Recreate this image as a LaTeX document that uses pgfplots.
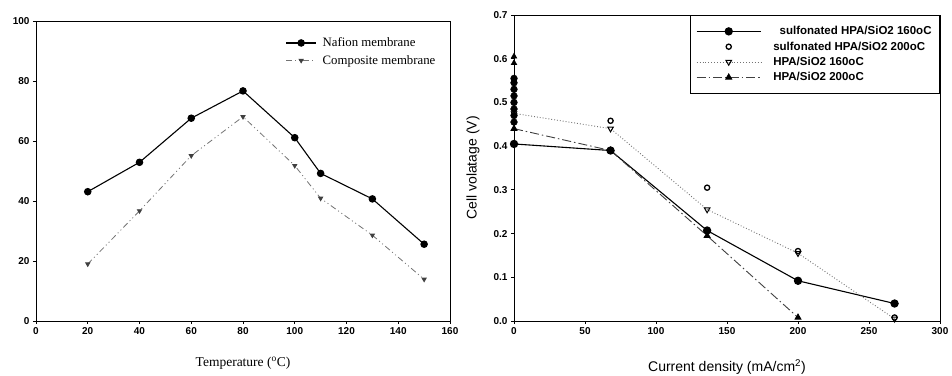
\documentclass[border=0pt]{standalone}
\usepackage{fontspec}
\setmainfont{Liberation Sans}
\newfontfamily\tnr{Liberation Serif}
\usepackage{pgfplots}
\pgfplotsset{compat=1.18}
\definecolor{dgray}{gray}{0.25}
\definecolor{mgray}{gray}{0.45}
\pgfplotsset{
  common/.style={
    scale only axis,
    anchor=north west,
    tick align=outside,
    xtick pos=bottom, ytick pos=left,
    axis line style={line width=0.9pt},
    major tick length=3pt,
    tick style={black, line width=0.8pt},
    ticklabel style={font=\bfseries\fontsize{10}{12}\selectfont},
    /pgf/number format/assume math mode=true,
    clip=false,
  },
}
\begin{document}
\begin{tikzpicture}[x=1pt,y=1pt]
\useasboundingbox (0,0) rectangle (952,-375);
% ---------------- left chart ----------------
\begin{axis}[common,
  at={(36pt,-21pt)}, width=414pt, height=300pt,
  xmin=0, xmax=160, ymin=0, ymax=100,
  xtick={0,20,...,160}, ytick={0,20,...,100},
  xlabel={\tnr\fontsize{13.5}{15}\selectfont Temperature (\textsuperscript{o}C)},
  xlabel style={at={(axis description cs:0.5,-0.14)}, anchor=center},
  legend style={draw=none, fill=none, at={(axis description cs:0.600,0.955)}, anchor=north west,
    font=\tnr\fontsize{12.8}{14}\selectfont, row sep=3pt, inner sep=1pt,
    /tikz/every odd column/.append style={column sep=4pt}},
  legend cell align=left,
  legend image code/.code={\draw[mark repeat=2,mark phase=2,#1] plot coordinates {(0pt,0pt)(15pt,0pt)(30pt,0pt)};},
]
\addplot[black, line width=1.1pt, mark=*, mark size=3.2pt, mark options={solid}] coordinates {
 (20,43.1) (40,52.9) (60,67.6) (80,76.7) (100,61.1) (110,49.2) (130,40.7) (150,25.6)};
\addlegendentry{Nafion membrane}
\addplot[mgray, line width=0.8pt, dash pattern=on 6pt off 3pt on 1pt off 3pt on 1pt off 3pt,
  mark=triangle*, mark size=2.4pt, mark options={solid, rotate=180, fill=dgray, draw=dgray}] coordinates {
 (20,19.0) (40,36.7) (60,55.1) (80,68.1) (100,51.8) (110,40.9) (130,28.6) (150,13.9)};
\addlegendentry{Composite membrane}
\end{axis}
% ---------------- right chart ----------------
\begin{axis}[common,
  at={(514pt,-15pt)}, width=426pt, height=306pt,
  xmin=0, xmax=300, ymin=0, ymax=0.7,
  xtick={0,50,...,300}, ytick={0,0.1,...,0.7},
  yticklabel style={/pgf/number format/.cd, fixed, fixed zerofill, precision=1},
  xlabel={\fontsize{14}{16}\selectfont Current density (mA/cm\textsuperscript{2})},
  xlabel style={at={(axis description cs:0.5,-0.150)}, anchor=center},
  ylabel={\fontsize{14}{16}\selectfont Cell volatage (V)},
  ylabel style={at={(axis description cs:-0.096,0.5)}, anchor=center},
  legend style={draw=black, line width=0.9pt, fill=white, at={(axis description cs:1,1)}, anchor=north east,
    font=\bfseries\fontsize{11.5}{13}\selectfont, row sep=1.5pt, inner xsep=6pt, inner ysep=9pt,
    /tikz/every odd column/.append style={column sep=10pt}},
  legend cell align=left,
  legend image code/.code={\draw[mark repeat=2,mark phase=2,#1] plot coordinates {(0pt,0pt)(32pt,0pt)(64pt,0pt)};},
]
\addplot[black, line width=1.1pt, mark=*, mark size=3.6pt, mark options={solid}] coordinates {
 (0,0.405) (68,0.390) (136,0.207) (200,0.092) (268,0.040)};
\addlegendentry{\ \ sulfonated HPA/SiO2 160oC}
\addplot[only marks, black, mark=o, mark size=2.6pt, mark options={line width=1.3pt}] coordinates {
 (68,0.458) (136,0.305) (200,0.160) (268,0.008)};
\addlegendentry{sulfonated HPA/SiO2 200oC}
\addplot[mgray, line width=0.9pt, dotted, mark=triangle, mark size=3.2pt,
  mark options={solid, rotate=180, black, line width=1pt}] coordinates {
 (0,0.475) (68,0.440) (136,0.255) (200,0.155) (268,0.005)};
\addlegendentry{HPA/SiO2 160oC}
\addplot[dgray, line width=0.9pt, dash pattern=on 9pt off 3pt on 1.5pt off 3pt,
  mark=triangle*, mark size=3.4pt, mark options={solid, black}] coordinates {
 (0,0.440) (68,0.390) (136,0.195) (200,0.008)};
\addlegendentry{HPA/SiO2 200oC}
% stacked open-circuit readings at zero current
\addplot[only marks, black, mark=*, mark size=3.4pt, forget plot] coordinates {
 (0,0.455) (0,0.470) (0,0.485) (0,0.500) (0,0.515) (0,0.530) (0,0.545) (0,0.555)};
\addplot[only marks, black, mark=triangle*, mark size=3.4pt, forget plot] coordinates {
 (0,0.590) (0,0.605)};
\end{axis}
\end{tikzpicture}
\end{document}
